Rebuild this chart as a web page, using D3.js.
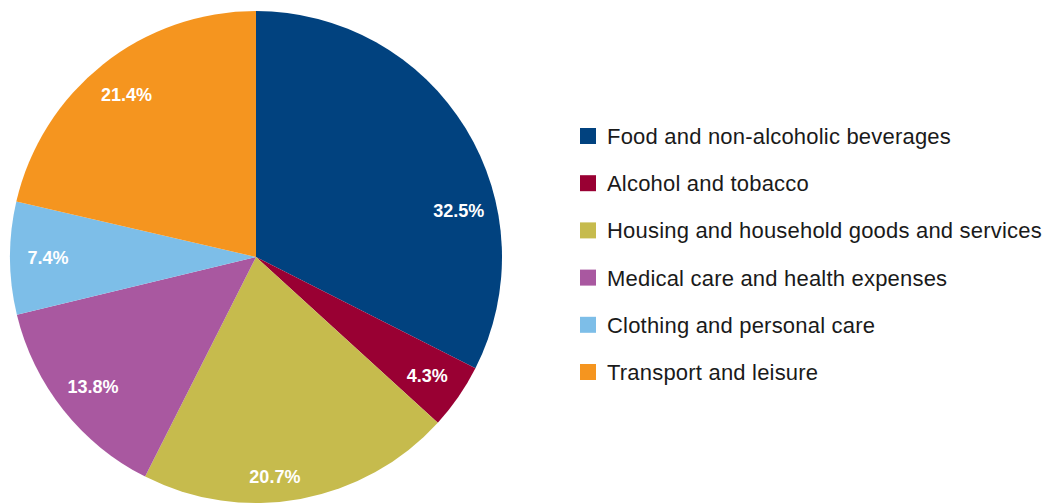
<!DOCTYPE html>
<html>
<head>
<meta charset="utf-8">
<script src="https://cdn.jsdelivr.net/npm/d3@7"></script>
<style>
  html, body { margin: 0; padding: 0; background: #fff; }
  svg { display: block; }
  text { font-family: "Liberation Sans", Arial, sans-serif; }
</style>
</head>
<body>
<svg id="chart" width="1048" height="503"></svg>
<script>
// Household expenditure shares by category (%)
const categories = [
  "Food and non-alcoholic beverages",
  "Alcohol and tobacco",
  "Housing and household goods and services",
  "Medical care and health expenses",
  "Clothing and personal care",
  "Transport and leisure"
];
const shares = [32.5, 4.3, 20.7, 13.8, 7.4, 21.4];
const colours = ["#01427f", "#990033", "#c6bb4d", "#a958a0", "#7dbee8", "#f5951f"];

const svg = d3.select("#chart");
const cx = 256, cy = 257, radius = 246;

const data = categories.map((c, i) => ({ name: c, value: shares[i], colour: colours[i] }));

const pie = d3.pie().value(d => d.value).sort(null);
const arcs = pie(data);
const arc = d3.arc().innerRadius(0).outerRadius(radius);

const g = svg.append("g").attr("transform", `translate(${cx},${cy})`);

g.selectAll("path.slice")
  .data(arcs)
  .join("path")
  .attr("class", "slice")
  .attr("d", arc)
  .attr("fill", d => d.data.colour);

// Labels sit near the rim on the slice's mid-angle; a couple are nudged
// along their slice so they read clear of the edges.
const labelRadius = 208;
const labelNudge = { 0: { t: 0.66 }, 2: { t: 0.574, r: 220 } };
function labelPos(d, i) {
  const n = labelNudge[i] || {};
  const t = n.t !== undefined ? n.t : 0.5;
  const r = n.r !== undefined ? n.r : labelRadius;
  const a = d.startAngle + (d.endAngle - d.startAngle) * t;
  return [r * Math.sin(a), -r * Math.cos(a)];
}

g.selectAll("text.val")
  .data(arcs)
  .join("text")
  .attr("class", "val")
  .attr("x", (d, i) => labelPos(d, i)[0])
  .attr("y", (d, i) => labelPos(d, i)[1])
  .attr("dy", "0.36em")
  .attr("text-anchor", "middle")
  .attr("fill", "#fff")
  .attr("font-weight", "bold")
  .attr("font-size", 18)
  .text(d => d.data.value.toFixed(1) + "%");

// Legend
const legendY = d3.scalePoint().domain(categories).range([136, 372]);
const legend = svg.append("g");
const items = legend.selectAll("g")
  .data(data)
  .join("g")
  .attr("transform", d => `translate(580,${legendY(d.name)})`);

items.append("rect")
  .attr("x", 0).attr("y", -8)
  .attr("width", 16).attr("height", 16)
  .attr("fill", d => d.colour);

items.append("text")
  .attr("x", 27)
  .attr("y", 0)
  .attr("dy", "0.36em")
  .attr("font-size", 22)
  .attr("letter-spacing", 0.2)
  .attr("fill", "#1a1a1a")
  .text(d => d.name);
</script>
</body>
</html>
